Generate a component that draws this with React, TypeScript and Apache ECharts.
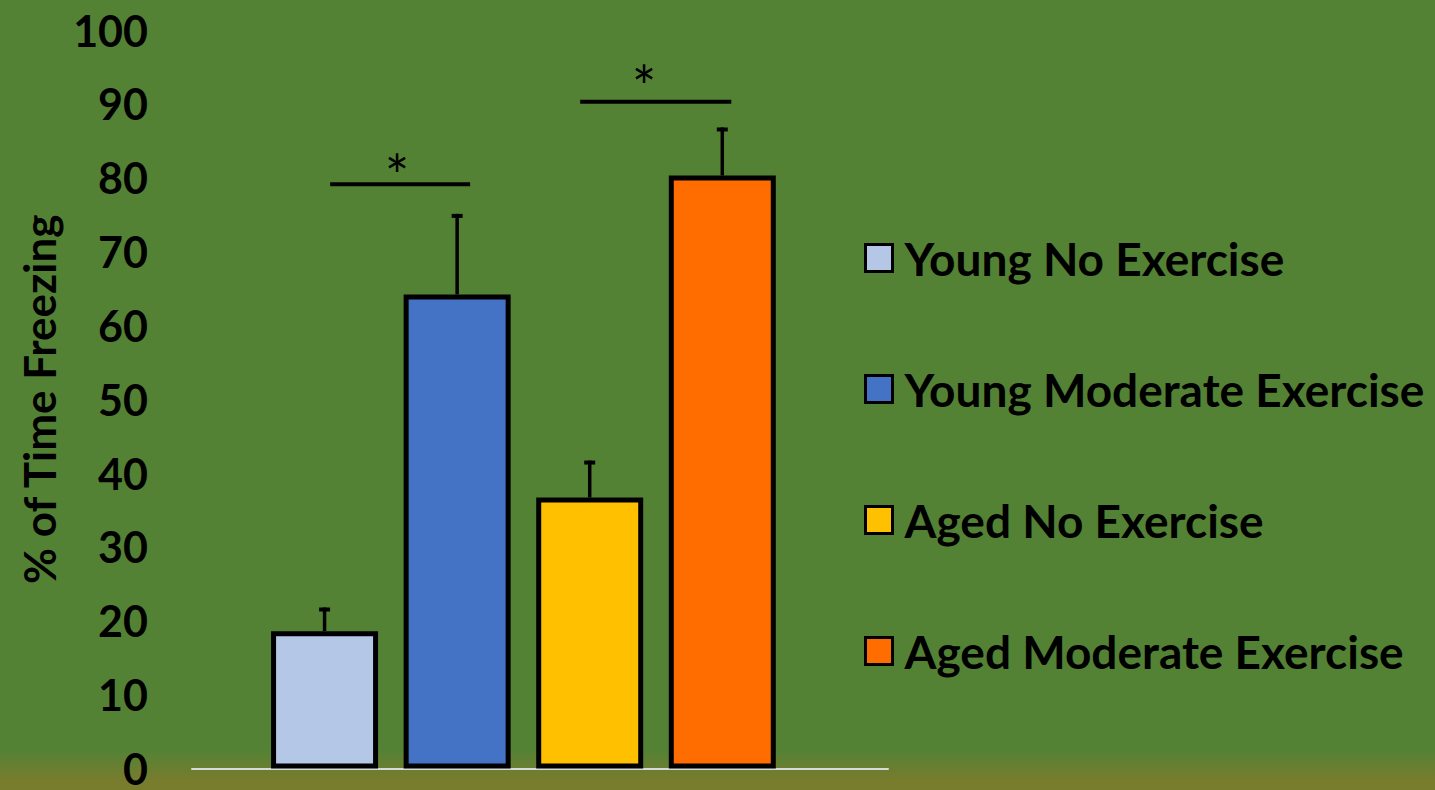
import React, { useEffect, useRef } from "react";
import * as echarts from "echarts";

// Group names (legend order) and bar positions on the x scale
const groups = [
  "Young No Exercise",
  "Young Moderate Exercise",
  "Aged No Exercise",
  "Aged Moderate Exercise",
];
const groupX = [1, 2, 3, 4];
const meanFreezing = [18.6, 64.2, 36.7, 80.3];
const errorUpper = [3.2, 10.9, 5.0, 6.5];
const barColors = ["#B4C7E7", "#4472C4", "#FFC000", "#FF6C00"];

const yTicks = [0, 10, 20, 30, 40, 50, 60, 70, 80, 90, 100];

// Significance brackets: [startX, endX, lineHeight, starX, starHeight]
const sigBrackets = [
  [1.042, 2.098, 79.1, 1.547, 81.8],
  [2.928, 4.068, 90.3, 3.411, 93.8],
];

const FONT = "Lato";

export default function App() {
  const ref = useRef<HTMLDivElement>(null);

  useEffect(() => {
    if (!ref.current) return;
    const chart = echarts.init(ref.current, null, { renderer: "svg" });

    const barSeries = groups.map((name, i) => ({
      name,
      type: "bar",
      data: [[groupX[i], meanFreezing[i]]],
      barWidth: 107,
      barGap: "-100%",
      itemStyle: {
        color: barColors[i],
        borderColor: "#000",
        borderWidth: 5,
      },
      z: 3,
    }));

    const option: any = {
      animation: false,
      backgroundColor: {
        type: "linear",
        x: 0,
        y: 0,
        x2: 0,
        y2: 1,
        colorStops: [
          { offset: 0, color: "#548235" },
          { offset: 0.95, color: "#548235" },
          { offset: 0.988, color: "#787C2D" },
          { offset: 1, color: "#787C2D" },
        ],
      },
      grid: { left: 192, right: 547, top: 30, bottom: 17 },
      legend: {
        orient: "vertical",
        left: 859,
        top: 230,
        padding: 5,
        itemWidth: 27,
        itemHeight: 27,
        itemGap: 85,
        icon: "rect",
        selectedMode: false,
        itemStyle: { borderColor: "#000", borderWidth: 3 },
        textStyle: {
          fontFamily: FONT,
          fontWeight: "bold",
          fontSize: 46,
          lineHeight: 46,
          color: "#000",
          padding: [0, 0, 0, 7],
        },
        data: groups,
      },
      xAxis: {
        type: "value",
        min: 0,
        max: 5.25,
        axisLine: { show: true, lineStyle: { color: "#D9D9D9", width: 2 } },
        axisTick: { show: false },
        axisLabel: { show: false },
        splitLine: { show: false },
      },
      yAxis: {
        type: "value",
        min: yTicks[0],
        max: yTicks[yTicks.length - 1],
        interval: 10,
        name: "% of Time Freezing",
        nameLocation: "middle",
        nameRotate: 90,
        nameGap: 131,
        nameTextStyle: {
          fontFamily: FONT,
          fontWeight: "bold",
          fontSize: 44,
          color: "#000",
        },
        axisLine: { show: false },
        axisTick: { show: false },
        splitLine: { show: false },
        axisLabel: {
          margin: 44,
          fontFamily: FONT,
          fontWeight: "bold",
          fontSize: 43,
          color: "#000",
        },
      },
      series: [
        ...barSeries,
        {
          name: "error",
          type: "custom",
          z: 2,
          data: groupX.map((x, i) => [x, meanFreezing[i], meanFreezing[i] + errorUpper[i]]),
          renderItem: (params: any, api: any) => {
            const base = api.coord([api.value(0), api.value(1)]);
            const top = api.coord([api.value(0), api.value(2)]);
            return {
              type: "group",
              children: [
                {
                  type: "line",
                  shape: { x1: base[0], y1: base[1], x2: top[0], y2: top[1] },
                  style: { stroke: "#000", lineWidth: 3.5 },
                },
                {
                  type: "rect",
                  shape: { x: top[0] - 5.5, y: top[1], width: 11, height: 4 },
                  style: { fill: "#000" },
                },
              ],
            };
          },
        },
        {
          name: "significance",
          type: "custom",
          z: 4,
          data: sigBrackets,
          renderItem: (params: any, api: any) => {
            const a = api.coord([api.value(0), api.value(2)]);
            const b = api.coord([api.value(1), api.value(2)]);
            const s = api.coord([api.value(3), api.value(4)]);
            return {
              type: "group",
              children: [
                {
                  type: "line",
                  shape: { x1: a[0], y1: a[1], x2: b[0], y2: b[1] },
                  style: { stroke: "#000", lineWidth: 4 },
                },
                {
                  type: "text",
                  x: s[0],
                  y: s[1] + 10,
                  style: {
                    text: "*",
                    fontFamily: FONT,
                    fontSize: 58,
                    fill: "#000",
                    align: "center",
                    verticalAlign: "middle",
                  },
                },
              ],
            };
          },
        },
      ],
    };

    chart.setOption(option);
    return () => chart.dispose();
  }, []);

  return (
    <div
      ref={ref}
      style={{ position: "fixed", left: 0, top: 0, width: 1435, height: 790 }}
    />
  );
}
